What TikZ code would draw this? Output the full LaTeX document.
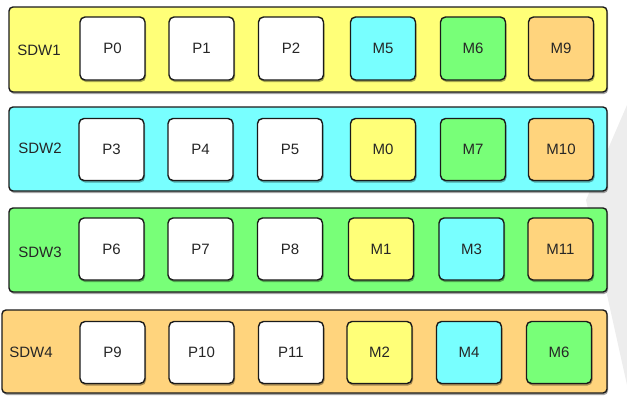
\documentclass[tikz,border=0pt]{standalone}
\usepackage{fontspec}
\setmainfont{Liberation Sans}
\usetikzlibrary{shadows}
\definecolor{cyl}{HTML}{FFFF78}
\definecolor{ccy}{HTML}{78FFFF}
\definecolor{cgr}{HTML}{78FF78}
\definecolor{cor}{HTML}{FFD47D}
\definecolor{edge}{HTML}{1A1A1A}
\definecolor{ghost}{HTML}{EDEDED}
\tikzset{
  rowbox/.style={draw=edge, line width=1.4pt, rounded corners=4pt, inner sep=0pt,
    drop shadow={shadow xshift=1pt, shadow yshift=-2pt, fill=black, opacity=0.35}},
  cell/.style={draw=edge, line width=1.4pt, rounded corners=5pt, inner sep=0pt,
    minimum width=65pt, minimum height=62pt, fill=white, text=black!85,
    font=\fontsize{15}{17}\selectfont,
    drop shadow={shadow xshift=1pt, shadow yshift=-2pt, fill=black, opacity=0.35}},
  lab/.style={inner sep=0pt, text=black!85, font=\fontsize{15}{17}\selectfont},
}
\begin{document}
\begin{tikzpicture}[x=1pt, y=-1pt]
\useasboundingbox (0,0) rectangle (627,405);
\fill[ghost] (627,105) -- (586,200) -- (627,385) -- cycle;
% rows
\node[rowbox, fill=cyl, minimum width=598pt, minimum height=85pt] (r1) at (308,49.5) {};
\node[rowbox, fill=ccy, minimum width=598pt, minimum height=84pt] (r2) at (308,149) {};
\node[rowbox, fill=cgr, minimum width=598pt, minimum height=84pt] (r3) at (308,250) {};
\node[rowbox, fill=cor, minimum width=605pt, minimum height=83pt] (r4) at (304.5,351.5) {};
% labels
\node[lab] (l1) at (39,50) {SDW1};
\node[lab] (l2) at (40,148) {SDW2};
\node[lab] (l3) at (40,252) {SDW3};
\node[lab] (l4) at (31,352) {SDW4};
% row 1
\node[cell, minimum height=63pt] (p0) at (112.5,48.5) {P0};
\node[cell, minimum height=63pt] (p1) at (201.5,48.5) {P1};
\node[cell, minimum height=63pt] (p2) at (291,48.5) {P2};
\node[cell, minimum height=63pt, fill=ccy] (m5) at (383,48.5) {M5};
\node[cell, minimum height=63pt, fill=cgr] (m6a) at (473,48.5) {M6};
\node[cell, minimum height=63pt, fill=cor] (m9) at (561,48.5) {M9};
% row 2
\node[cell] (p3) at (111.5,149.5) {P3};
\node[cell] (p4) at (200.5,149.5) {P4};
\node[cell] (p5) at (290,149.5) {P5};
\node[cell, fill=cyl] (m0) at (383,149.5) {M0};
\node[cell, fill=cgr] (m7) at (473,149.5) {M7};
\node[cell, fill=cor] (m10) at (561,149.5) {M10};
% row 3
\node[cell] (p6) at (111.5,249) {P6};
\node[cell] (p7) at (200.5,249) {P7};
\node[cell] (p8) at (290,249) {P8};
\node[cell, fill=cyl] (m1) at (381,249) {M1};
\node[cell, fill=ccy] (m3) at (471.5,249) {M3};
\node[cell, fill=cor] (m11) at (560.5,249) {M11};
% row 4
\node[cell] (p9) at (112.5,352.5) {P9};
\node[cell] (p10) at (201.5,352.5) {P10};
\node[cell] (p11) at (291,352.5) {P11};
\node[cell, fill=cyl] (m2) at (379.5,352.5) {M2};
\node[cell, fill=ccy] (m4) at (469,352.5) {M4};
\node[cell, fill=cgr] (m6b) at (559,352.5) {M6};
\end{tikzpicture}
\end{document}
